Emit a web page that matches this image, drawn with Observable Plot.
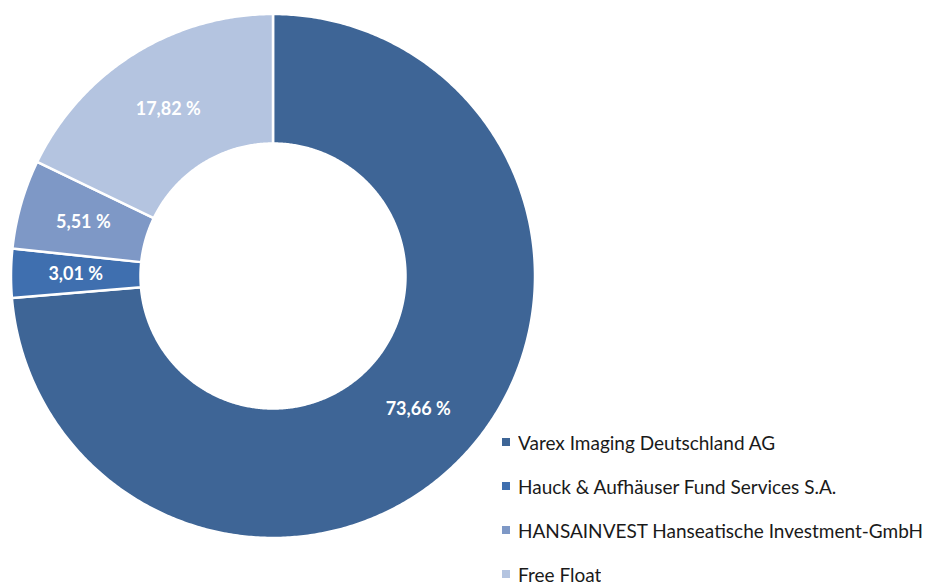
<!DOCTYPE html>
<html>
<head>
<meta charset="utf-8">
<script src="https://cdn.jsdelivr.net/npm/d3@7"></script>
<script src="https://cdn.jsdelivr.net/npm/@observablehq/plot@0.6"></script>
<style>
  html, body { margin: 0; padding: 0; background: #fff; }
  #wrap { position: relative; width: 925px; height: 583px; overflow: hidden; }
  #legend { position: absolute; left: 502px; top: 420px; }
  #legend > div { margin: 0 !important; }
  #legend .lg-swatch { height: 44px; padding-bottom: 0 !important; font-size: 19px; color: #1a1a1a; font-family: Lato, "Open Sans", sans-serif; }
  #legend .lg-swatch svg { margin-right: 8px !important; }
</style>
</head>
<body>
<div id="wrap"></div>
<script>
const owners = ["Varex Imaging Deutschland AG", "Hauck & Aufhäuser Fund Services S.A.", "HANSAINVEST Hanseatische Investment-GmbH", "Free Float"];
const shares = [73.66, 3.01, 5.51, 17.82];
const shareLabels = ["73,66 %", "3,01 %", "5,51 %", "17,82 %"];
const colors = ["#3E6596", "#3F6FAF", "#7E98C6", "#B4C4E0"];

const innerRatio = 132.5 / 262;
const total = d3.sum(shares);

// Build slice polygons (data space, unit circle) and label centroids
const polys = [];
const cents = [];
let acc = 0;
owners.forEach((name, i) => {
  const a0 = acc / total * 2 * Math.PI;
  acc += shares[i];
  const a1 = acc / total * 2 * Math.PI;
  const n = Math.max(4, Math.ceil((a1 - a0) / (Math.PI / 360)));
  for (let k = 0; k <= n; k++) {
    const a = a0 + (a1 - a0) * k / n;
    polys.push({name, x: Math.sin(a), y: Math.cos(a)});
  }
  for (let k = n; k >= 0; k--) {
    const a = a0 + (a1 - a0) * k / n;
    polys.push({name, x: innerRatio * Math.sin(a), y: innerRatio * Math.cos(a)});
  }
  const am = (a0 + a1) / 2, rm = (1 + innerRatio) / 2;
  cents.push({name, label: shareLabels[i], x: rm * Math.sin(am), y: rm * Math.cos(am)});
});

const chart = Plot.plot({
  width: 925,
  height: 583,
  margin: 0,
  x: {domain: [-1, 1], range: [10.5, 534.5], axis: null},
  y: {domain: [-1, 1], range: [537.5, 13.5], axis: null},
  color: {domain: owners, range: colors},
  style: {background: "#fff"},
  marks: [
    Plot.line(polys, {x: "x", y: "y", z: "name", fill: "name", stroke: "white", strokeWidth: 2.5, curve: "linear-closed"}),
    Plot.text(cents, {x: "x", y: "y", text: "label", fill: "white", fontSize: 18, fontWeight: "bold", fontFamily: "Lato, 'Open Sans', sans-serif"})
  ]
});

const wrap = document.getElementById("wrap");
wrap.appendChild(chart);

const legend = Plot.legend({
  color: {domain: owners, range: colors},
  legend: "swatches",
  columns: 1,
  swatchSize: 8,
  className: "lg"
});
const lgDiv = document.createElement("div");
lgDiv.id = "legend";
lgDiv.appendChild(legend);
wrap.appendChild(lgDiv);
</script>
</body>
</html>
